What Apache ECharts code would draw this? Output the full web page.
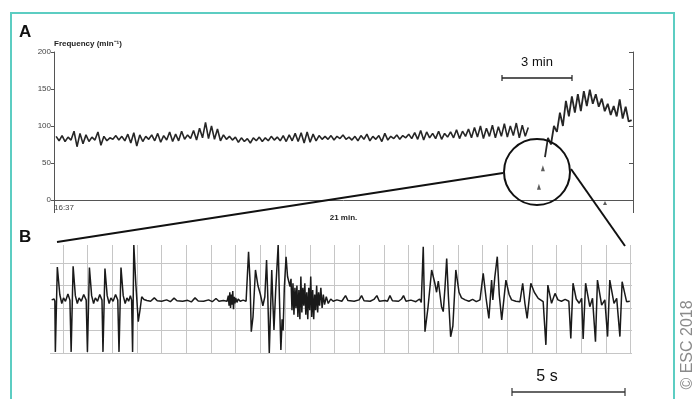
<!DOCTYPE html>
<html>
<head>
<meta charset="utf-8">
<script src="https://cdn.jsdelivr.net/npm/echarts@6/dist/echarts.min.js"></script>
<style>
  html, body { margin: 0; padding: 0; background: #fff; }
  #main { width: 696px; height: 399px; }
</style>
</head>
<body>
<div id="main"></div>
<script>
// A: heart rate trend (min^-1), time in minutes from 16:37
var trendStep = 0.128;
var trendStart1 = 0.09;
var trendVals1 = [
    86, 80, 87, 79, 85, 81, 93, 72, 90, 76,
    88, 79, 85, 81, 92, 74, 86, 80, 84, 82,
    87, 81, 86, 80, 89, 77, 91, 73, 88, 79,
    86, 82, 88, 80, 90, 78, 87, 81, 92, 79,
    89, 80, 93, 82, 88, 83, 94, 81, 97, 84,
    105, 83, 100, 82, 96, 80, 88, 82, 86, 81,
    85, 78, 84, 79, 83, 77, 84, 80, 85, 79,
    84, 80, 86, 81, 85, 80, 87, 79, 88, 80,
    90, 79, 91, 77, 92, 78, 89, 80, 87, 82,
    86, 82, 87, 81, 86, 83, 88, 82, 85, 81,
    86, 80, 87, 82, 89, 80, 86, 82, 87, 79,
    90, 81, 86, 83, 88, 82, 87, 84, 89, 83,
    91, 82, 94, 81, 92, 84, 90, 83, 93, 82,
    90, 85, 92, 84, 95, 83, 93, 86, 96, 84,
    98, 85, 100, 83, 97, 86, 101, 84, 99, 86,
    103, 85, 100, 87, 104, 84, 101, 86, 98
];
var trendStart2 = 21.03;
var trendVals2 = [
    58, 84, 75, 100, 92, 118, 100, 134, 113, 140,
    118, 143, 120, 147, 127, 149, 130, 143, 126, 137,
    120, 130, 115, 127, 113, 136, 110, 126, 106, 108
];
var dipMarks = [[20.94, 43], [20.77, 18]];
var endMark = [[23.6, -4]];
var trendMax = 24.8;

// B: ECG strip, x in grid boxes, y in grid rows
var ecgSinus = [
    [-0.46, 2.36], [-0.36, 2.4], [-0.33, 2.3], [-0.31, 0.05], [-0.23, 3.82], [-0.13, 2.6], [-0.05, 2.2], [0.02, 2.45], [0.1, 2.3], [0.2, 2.62], [0.28, 2.35],
    [0.31, 2.3], [0.33, 0.05], [0.41, 3.85], [0.5, 2.55], [0.58, 2.2], [0.65, 2.45], [0.74, 2.3], [0.84, 2.6], [0.94, 2.35],
    [0.97, 2.3], [0.99, 0.05], [1.07, 3.8], [1.16, 2.55], [1.24, 2.2], [1.31, 2.45], [1.4, 2.3], [1.49, 2.6], [1.58, 2.35],
    [1.6, 2.3], [1.62, 0.05], [1.7, 3.75], [1.79, 2.55], [1.87, 2.2], [1.94, 2.45], [2.03, 2.3], [2.13, 2.6], [2.22, 2.35],
    [2.25, 2.3], [2.27, 0.05], [2.35, 3.8], [2.44, 2.55], [2.52, 2.2], [2.59, 2.45], [2.66, 2.3], [2.73, 2.55], [2.78, 2.35],
    [2.8, 2.3], [2.82, 0.05], [2.87, 4.8], [2.95, 3.1], [3.05, 1.39], [3.12, 1.9], [3.19, 2.5], [3.28, 2.38]
];
var ecgPause = [
    [3.4, 2.33], [3.55, 2.3], [3.7, 2.45], [3.82, 2.32], [4.0, 2.3], [4.2, 2.36], [4.35, 2.28], [4.5, 2.44], [4.62, 2.32],
    [4.85, 2.3], [5.05, 2.34], [5.2, 2.27], [5.35, 2.45], [5.48, 2.31], [5.7, 2.3], [5.9, 2.36], [6.05, 2.28], [6.2, 2.42],
    [6.32, 2.3], [6.5, 2.33], [6.65, 2.3],
    [6.7, 2.55], [6.73, 2.1], [6.76, 2.7], [6.79, 2.0], [6.82, 2.6], [6.85, 2.15], [6.88, 2.75], [6.91, 1.95], [6.94, 2.5],
    [6.97, 2.2], [7.0, 2.45], [7.05, 2.25], [7.1, 2.4], [7.18, 2.3], [7.3, 2.35], [7.42, 2.3]
];
var ecgBurst = [
    [7.48, 2.3], [7.52, 4.5], [7.58, 3.2], [7.63, 0.95], [7.7, 1.6], [7.8, 3.69], [7.9, 3.0], [8.0, 2.6], [8.1, 2.1],
    [8.18, 2.5], [8.25, 4.13], [8.3, 2.5], [8.36, 0.0], [8.42, 2.2], [8.46, 3.69], [8.5, 2.4], [8.55, 1.02], [8.62, 2.8],
    [8.72, 4.8], [8.77, 2.5], [8.83, 0.13], [8.88, 1.5], [8.92, 1.0], [8.97, 2.9], [9.04, 4.28], [9.1, 3.4], [9.2, 2.95],
    [9.24, 3.3], [9.28, 1.9], [9.32, 3.1], [9.36, 1.7], [9.4, 2.9], [9.44, 2.0], [9.48, 3.0], [9.52, 1.6], [9.56, 2.8],
    [9.6, 1.5], [9.64, 3.4], [9.68, 1.8], [9.72, 2.9], [9.76, 2.1], [9.8, 3.1], [9.84, 1.7], [9.88, 2.7], [9.92, 1.5],
    [9.96, 2.9], [10.0, 1.9], [10.04, 3.4], [10.08, 1.6], [10.12, 2.8], [10.16, 1.5], [10.2, 2.6], [10.24, 1.9], [10.28, 3.0],
    [10.32, 1.8], [10.36, 2.7], [10.4, 2.1], [10.45, 2.9], [10.5, 2.0], [10.55, 2.6], [10.6, 2.15], [10.67, 2.5], [10.75, 2.2],
    [10.85, 2.4], [10.95, 2.3]
];
var ecgFlat = [
    [11.1, 2.36], [11.3, 2.3], [11.45, 2.55], [11.55, 2.33], [11.8, 2.3], [12.0, 2.36], [12.1, 2.55], [12.2, 2.32],
    [12.45, 2.3], [12.6, 2.38], [12.72, 2.55], [12.82, 2.3], [13.05, 2.33], [13.15, 2.3], [13.25, 2.55], [13.35, 2.32],
    [13.6, 2.3], [13.72, 2.4], [13.8, 2.55], [13.9, 2.3], [14.1, 2.35], [14.3, 2.28], [14.45, 2.4], [14.52, 2.25]
];
var ecgIrregular = [
    [14.6, 4.72], [14.67, 0.95], [14.79, 2.0], [14.94, 3.69], [15.07, 3.1], [15.14, 2.7], [15.21, 3.2], [15.34, 2.06],
    [15.41, 1.84], [15.48, 2.9], [15.55, 4.2], [15.62, 2.5], [15.71, 0.72], [15.8, 1.2], [15.92, 3.69], [16.05, 2.7],
    [16.15, 2.45], [16.3, 2.36], [16.45, 2.3], [16.6, 2.38], [16.75, 2.28], [16.9, 2.36], [16.98, 2.3],
    [17.03, 3.54], [17.15, 2.4], [17.26, 1.54], [17.37, 3.24], [17.42, 2.36], [17.5, 3.37], [17.6, 4.28], [17.68, 2.6],
    [17.78, 1.47], [17.95, 3.24], [18.08, 2.6], [18.18, 2.36], [18.35, 2.3], [18.52, 2.28], [18.63, 3.1], [18.72, 2.2],
    [18.81, 1.54], [18.96, 3.1], [19.1, 2.7], [19.26, 2.43], [19.46, 2.28], [19.57, 0.36], [19.65, 3.02], [19.8, 2.21],
    [19.94, 2.65], [20.06, 2.36], [20.2, 2.3], [20.35, 2.38], [20.5, 2.3]
];
var ecgFast = [
    [20.58, 0.65], [20.67, 3.1], [20.8, 2.4], [20.92, 2.21], [21.02, 2.43], [21.08, 0.62], [21.18, 3.1], [21.35, 2.06],
    [21.46, 2.43], [21.58, 0.5], [21.66, 3.24], [21.83, 2.13], [21.96, 2.36], [22.07, 0.73], [22.16, 3.24], [22.33, 2.21],
    [22.44, 2.43], [22.57, 0.73], [22.66, 3.17], [22.84, 2.28], [22.97, 2.3]
];

var FONT = '"Liberation Sans", Arial, sans-serif';
var TEAL = '#5ccdc2';
var INK = '#1a1a1a';

function toPoints(start, step, vals) {
    return vals.map(function (v, i) {
        return [+(start + i * step).toFixed(3), v];
    });
}

var ecgAll = [].concat(ecgSinus, ecgPause, ecgBurst, ecgFlat, ecgIrregular, ecgFast);

var myChart = echarts.init(document.getElementById('main'), null, { renderer: 'canvas' });

var option = {
    backgroundColor: '#ffffff',
    animation: false,
    textStyle: { fontFamily: FONT },
    grid: [
        { left: 54, top: 52, width: 579, height: 148 },
        { left: 50, top: 245, width: 582, height: 108 },
        { left: 63, top: 245, width: 567.6, height: 108 }
    ],
    xAxis: [
        {
            gridIndex: 0, type: 'value', min: 0, max: trendMax,
            name: '21 min.', nameLocation: 'middle', nameGap: 14,
            nameTextStyle: { fontSize: 8, fontWeight: 'bold', color: '#222' },
            axisLine: { lineStyle: { color: '#555', width: 1 } },
            axisTick: { show: true, customValues: [0, trendMax], length: 13, lineStyle: { color: '#555' } },
            axisLabel: {
                customValues: [0], fontSize: 8, color: '#444', align: 'left', margin: 4,
                formatter: function () { return '16:37'; }
            },
            splitLine: { show: false }
        },
        {
            gridIndex: 1, type: 'value', min: -0.527, max: 23.06, show: false
        },
        {
            gridIndex: 2, type: 'value', min: 0, max: 23, interval: 1,
            axisLine: { show: false }, axisTick: { show: false }, axisLabel: { show: false },
            splitLine: { show: true, lineStyle: { color: '#c6c6c6', width: 1 } }
        }
    ],
    yAxis: [
        {
            gridIndex: 0, type: 'value', min: 0, max: 200, interval: 50,
            name: 'Frequency (min\u207B\u00B9)', nameLocation: 'end', nameGap: 3,
            nameTextStyle: { fontSize: 8, fontWeight: 'bold', color: '#222', align: 'left' },
            axisLine: { show: true, lineStyle: { color: '#555', width: 1 } },
            axisTick: { show: true, length: 3, lineStyle: { color: '#555' } },
            axisLabel: { fontSize: 8, color: '#444', margin: 3 },
            splitLine: { show: false }
        },
        {
            gridIndex: 0, type: 'value', min: 0, max: 200, interval: 50, position: 'right',
            axisLine: { show: true, lineStyle: { color: '#555', width: 1 } },
            axisTick: { show: true, inside: true, length: 4, lineStyle: { color: '#555' } },
            axisLabel: { show: false },
            splitLine: { show: false }
        },
        {
            gridIndex: 1, type: 'value', min: 0, max: 4.8, interval: 1,
            axisLine: { show: false }, axisTick: { show: false }, axisLabel: { show: false },
            splitLine: { show: true, showMaxLine: false, lineStyle: { color: '#c6c6c6', width: 1 } }
        },
        {
            gridIndex: 2, type: 'value', min: 0, max: 1, show: false
        }
    ],
    series: [
        {
            type: 'line', xAxisIndex: 0, yAxisIndex: 0,
            data: toPoints(trendStart1, trendStep, trendVals1),
            showSymbol: false, lineStyle: { color: '#262626', width: 1.6 }
        },
        {
            type: 'line', xAxisIndex: 0, yAxisIndex: 0,
            data: toPoints(trendStart2, trendStep, trendVals2),
            showSymbol: false, lineStyle: { color: '#262626', width: 1.8 }
        },
        {
            type: 'scatter', xAxisIndex: 0, yAxisIndex: 0,
            data: dipMarks, symbol: 'triangle', symbolSize: [4, 6],
            itemStyle: { color: '#333' }
        },
        {
            type: 'scatter', xAxisIndex: 0, yAxisIndex: 0, clip: false,
            data: endMark, symbol: 'triangle', symbolSize: 4,
            itemStyle: { color: '#333' }
        },
        {
            type: 'line', xAxisIndex: 1, yAxisIndex: 2,
            data: ecgAll, showSymbol: false, clip: false,
            lineStyle: { color: INK, width: 1.5 }
        }
    ],
    graphic: [
        {
            type: 'rect', z: -1, silent: true,
            shape: { x: 11, y: 13, width: 663, height: 420 },
            style: { fill: '#ffffff', stroke: TEAL, lineWidth: 2 }
        },
        { type: 'text', x: 19, y: 24, style: { text: 'A', font: 'bold 17px ' + FONT, fill: '#111' } },
        { type: 'text', x: 19, y: 229, style: { text: 'B', font: 'bold 17px ' + FONT, fill: '#111' } },
        {
            type: 'text', x: 537, y: 62,
            style: { text: '3 min', font: '13px ' + FONT, fill: '#111', textAlign: 'center', textVerticalAlign: 'middle' }
        },
        { type: 'line', shape: { x1: 502, y1: 78, x2: 572, y2: 78 }, style: { stroke: '#222', lineWidth: 1.5 } },
        { type: 'line', shape: { x1: 502, y1: 75, x2: 502, y2: 81 }, style: { stroke: '#222', lineWidth: 1.2 } },
        { type: 'line', shape: { x1: 572, y1: 75, x2: 572, y2: 81 }, style: { stroke: '#222', lineWidth: 1.2 } },
        {
            type: 'circle', z: 100, shape: { cx: 537, cy: 172, r: 33 },
            style: { fill: 'none', stroke: '#111', lineWidth: 2 }
        },
        { type: 'line', z: 100, shape: { x1: 503, y1: 173, x2: 57, y2: 242 }, style: { stroke: '#111', lineWidth: 2 } },
        { type: 'line', z: 100, shape: { x1: 571, y1: 169, x2: 625, y2: 246 }, style: { stroke: '#111', lineWidth: 2 } },
        {
            type: 'text', x: 547, y: 377,
            style: { text: '5 s', font: '16px ' + FONT, fill: '#111', textAlign: 'center', textVerticalAlign: 'middle' }
        },
        { type: 'line', shape: { x1: 512, y1: 392, x2: 625, y2: 392 }, style: { stroke: '#333', lineWidth: 1.5 } },
        { type: 'line', shape: { x1: 512, y1: 388, x2: 512, y2: 396 }, style: { stroke: '#333', lineWidth: 1.2 } },
        { type: 'line', shape: { x1: 625, y1: 388, x2: 625, y2: 396 }, style: { stroke: '#333', lineWidth: 1.2 } },
        {
            type: 'text', x: 688, y: 345, rotation: Math.PI / 2,
            style: { text: '\u00A9 ESC 2018', font: '16px ' + FONT, fill: '#8a8a8a', textAlign: 'center', textVerticalAlign: 'middle' }
        }
    ]
};

myChart.setOption(option);
</script>
</body>
</html>
